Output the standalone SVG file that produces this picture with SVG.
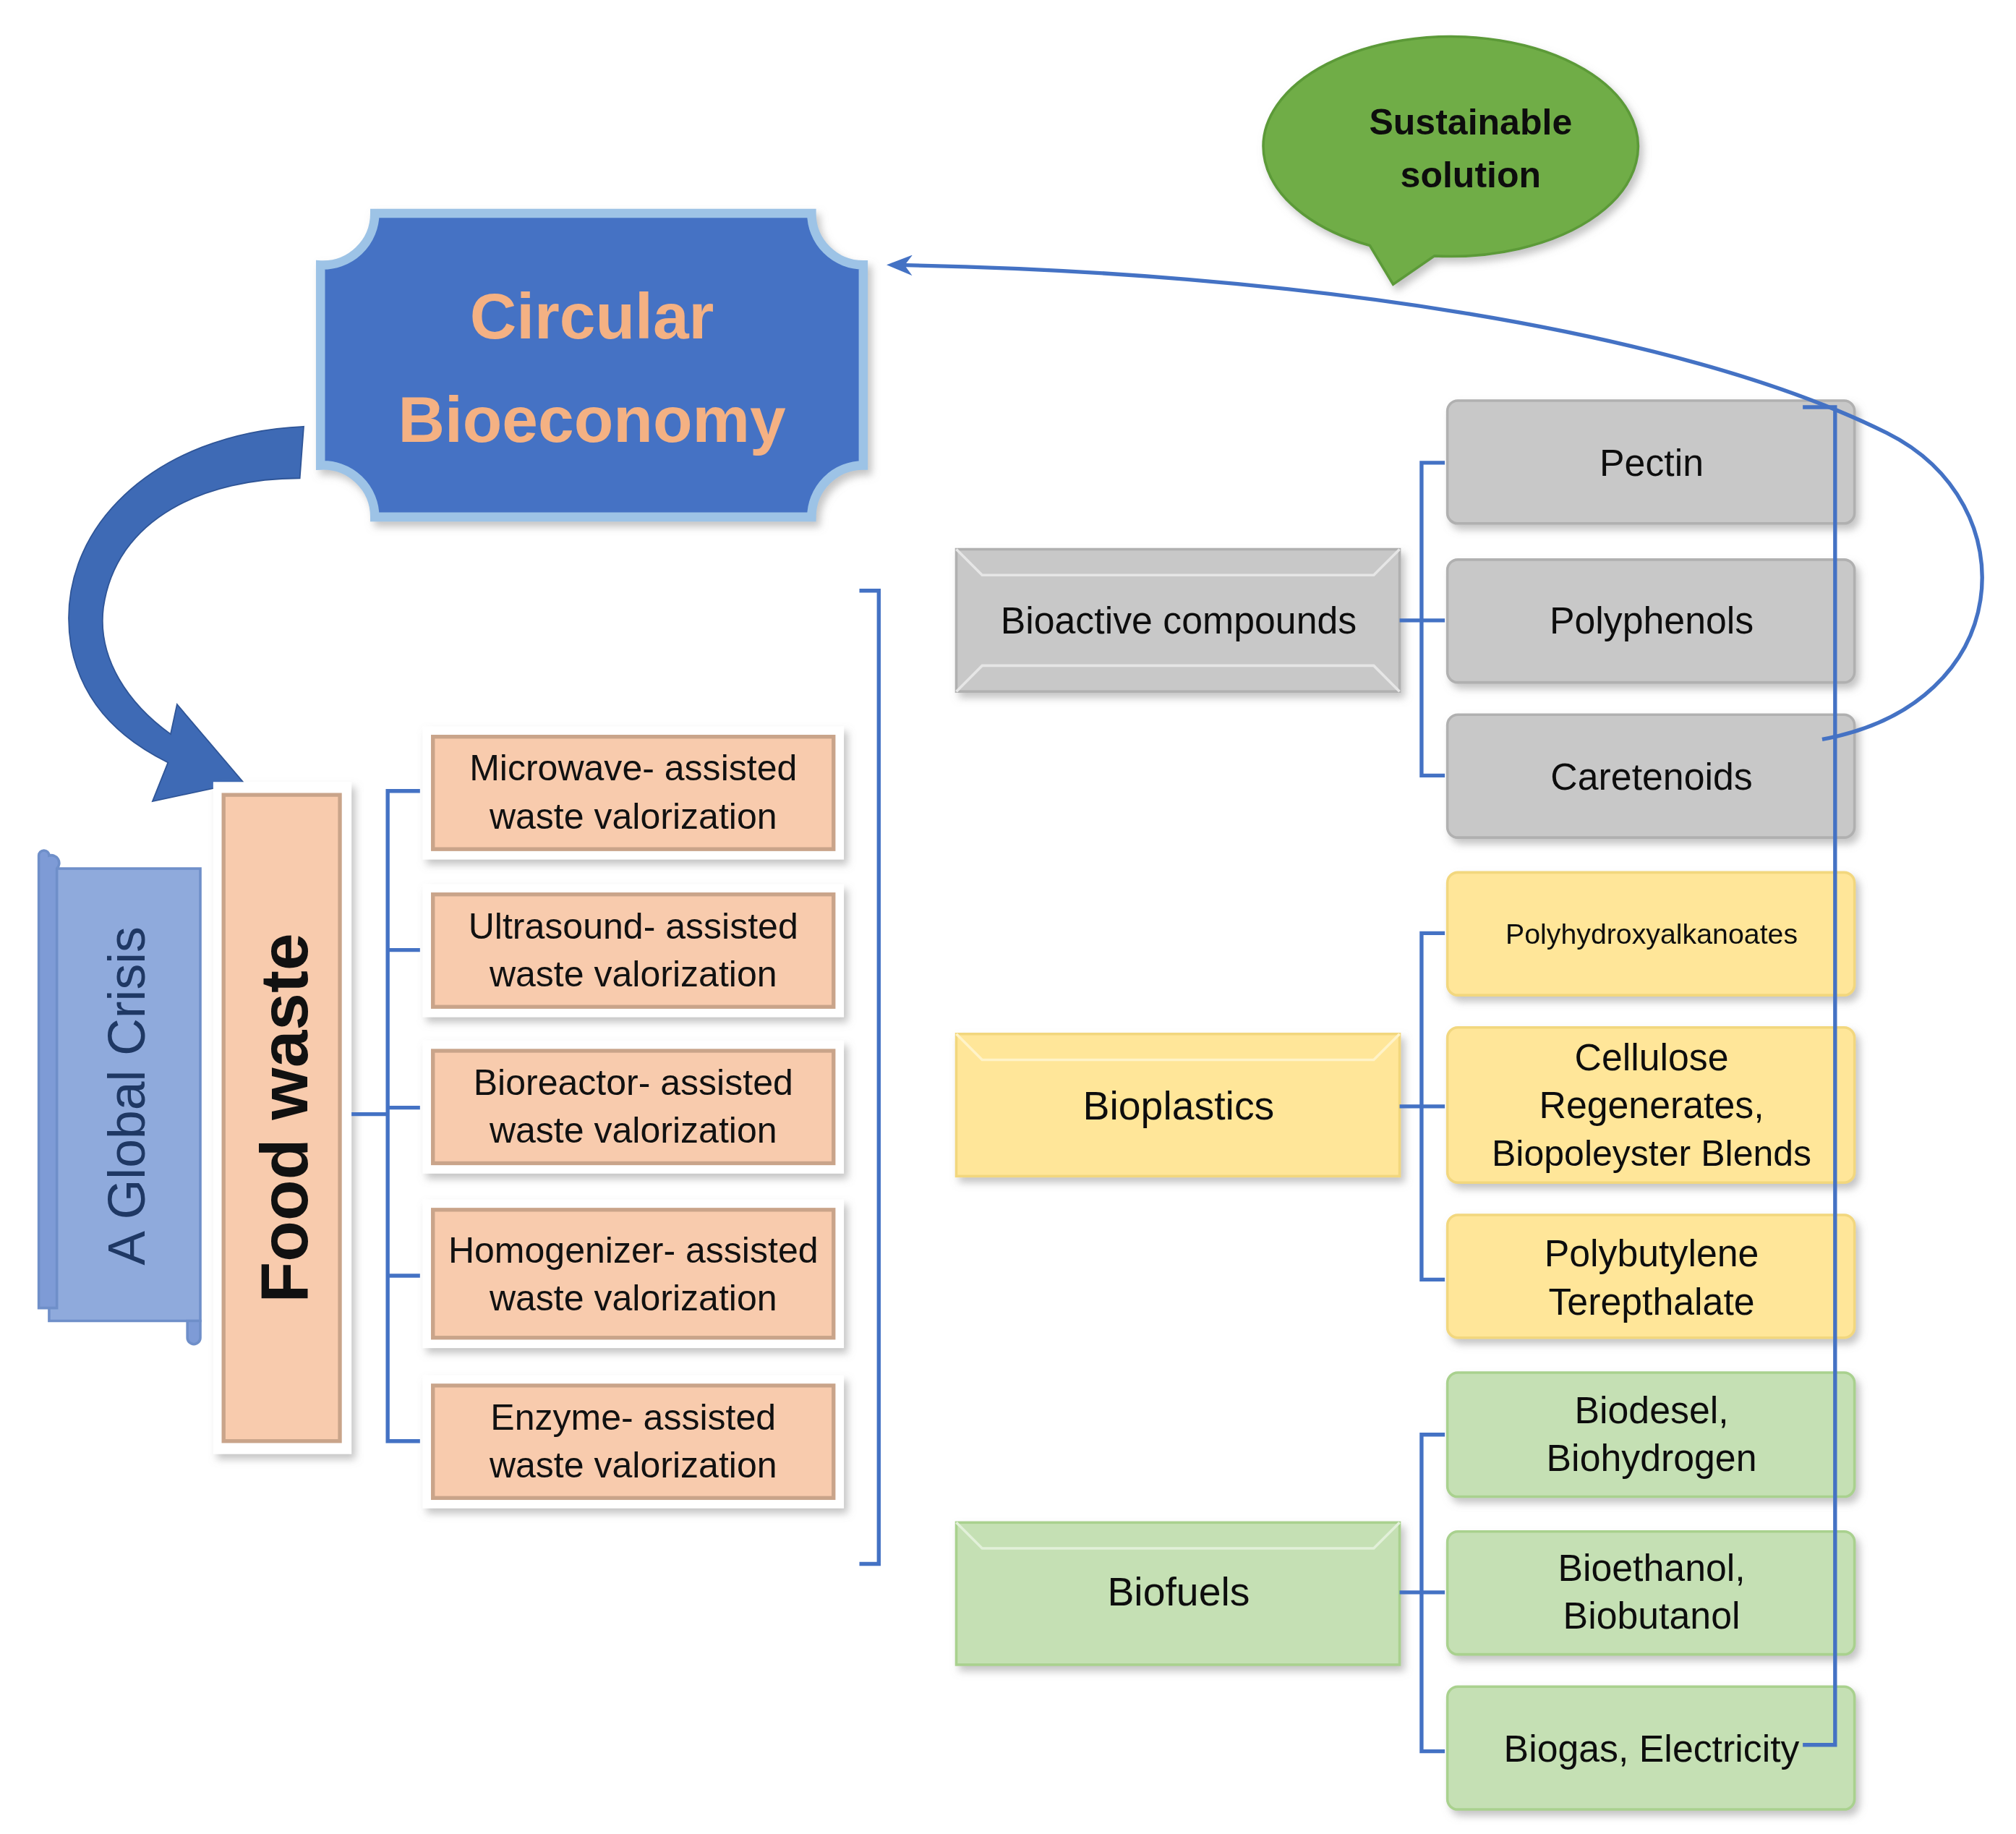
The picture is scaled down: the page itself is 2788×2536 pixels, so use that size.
<svg xmlns="http://www.w3.org/2000/svg" width="2788" height="2536" viewBox="0 0 2788 2536">
<defs>
<style>
text{font-family:"Liberation Sans",Arial,sans-serif;fill:#111;text-anchor:middle}
.o{fill:#F8CBAD;stroke:#C9A48A;stroke-width:3}
.fr{fill:#fff;filter:url(#sh)}
.ln{fill:none;stroke:#4472C4;stroke-width:3}
.t{font-size:28px}
.g{fill:#C8C8C8;stroke:#B0B0B0;stroke-width:2}
.y{fill:#FFE699;stroke:#F2D77E;stroke-width:2}
.gr{fill:#C5E0B4;stroke:#A9D18E;stroke-width:2}
</style>
<filter id="sh" x="-10%" y="-10%" width="130%" height="130%"><feDropShadow dx="3" dy="4" stdDeviation="3" flood-color="#888" flood-opacity="0.5"/></filter>
<marker id="ah" markerWidth="20" markerHeight="16" refX="16" refY="8" orient="auto" markerUnits="userSpaceOnUse"><path d="M0,0 L20,8 L0,16 L6,8 Z" fill="#4472C4"/></marker>
</defs>
<rect width="2788" height="2536" fill="#fff"/>
<g transform="scale(1.7872)">
<g id="bubble" filter="url(#sh)">
<path d="M1060,190 A145,85 0 1 1 1110,198 L1078,220 Z" fill="#70AD47" stroke="#5C9A38" stroke-width="2"/>
<text x="1138" y="104" font-size="28" font-weight="bold" fill="#1a2a10">Sustainable</text>
<text x="1138" y="145" font-size="28" font-weight="bold">solution</text>
</g>
<g id="circular">
<path d="M290,165 L628,165 A40,40 0 0 0 668,205 L668,360 A40,40 0 0 0 628,400 L290,400 A40,40 0 0 0 248,360 L248,205 A40,40 0 0 0 290,165 Z" fill="#4472C4" stroke="#9DC3E6" stroke-width="7" filter="url(#sh)"/>
<text x="458" y="262" font-size="50" font-weight="bold" style="fill:#F4B183">Circular</text>
<text x="458" y="342" font-size="50" font-weight="bold" style="fill:#F4B183">Bioeconomy</text>
</g>
<g id="bigarrow">
<path d="M235,330 C120,335 40,410 55,500 C65,550 100,575 130,590 L118,620 L188,605 L137,545 L132,568 C100,545 75,510 80,470 C90,400 160,370 232,370 Z" fill="#3E6AB5" stroke="#2F5597" stroke-width="1"/>
</g>
<g id="crisis">
<path d="M38,672 L155,672 L155,1022 L38,1022 Z" fill="#8FAADC" stroke="#6F8FC9" stroke-width="2"/>
<path d="M38,662 A6,6 0 0 1 44,672 L44,1012 L30,1012 L30,662 A4,4 0 0 1 38,662 Z" fill="#7E9BD6" stroke="#6F8FC9" stroke-width="2"/>
<path d="M145,1022 L155,1022 L155,1035 A5,5 0 0 1 145,1035 Z" fill="#7E9BD6" stroke="#6F8FC9" stroke-width="2"/>
<text transform="translate(112,848) rotate(-90)" font-size="40" style="fill:#1F3864">A Global Crisis</text>
</g>
<g id="foodwaste">
<rect class="fr" x="165" y="605" width="107" height="520"/>
<rect class="o" x="173" y="615" width="90" height="500"/>
<text transform="translate(238,865) rotate(-90)" font-size="52" font-weight="bold">Food waste</text>
</g>
<g id="m1"><rect class="fr" x="327" y="562" width="326" height="103"/><rect class="o" x="335" y="570" width="310" height="87"/><text class="t" x="490" y="604">Microwave- assisted</text><text class="t" x="490" y="641">waste valorization</text></g>
<g id="m2"><rect class="fr" x="327" y="684" width="326" height="103"/><rect class="o" x="335" y="692" width="310" height="87"/><text class="t" x="490" y="726">Ultrasound- assisted</text><text class="t" x="490" y="763">waste valorization</text></g>
<g id="m3"><rect class="fr" x="327" y="805" width="326" height="103"/><rect class="o" x="335" y="813" width="310" height="87"/><text class="t" x="490" y="847">Bioreactor- assisted</text><text class="t" x="490" y="884">waste valorization</text></g>
<g id="m4"><rect class="fr" x="327" y="928" width="326" height="115"/><rect class="o" x="335" y="936" width="310" height="99"/><text class="t" x="490" y="977">Homogenizer- assisted</text><text class="t" x="490" y="1014">waste valorization</text></g>
<g id="m5"><rect class="fr" x="327" y="1064" width="326" height="103"/><rect class="o" x="335" y="1072" width="310" height="87"/><text class="t" x="490" y="1106">Enzyme- assisted</text><text class="t" x="490" y="1143">waste valorization</text></g>
<g id="bioactive" filter="url(#sh)"><rect class="g" x="740" y="425" width="343" height="110"/><path d="M740,425 L760,445 L1063,445 L1083,425 M740,535 L760,515 L1063,515 L1083,535" fill="none" stroke="#E6E6E6" stroke-width="2"/><text x="912" y="490" font-size="29">Bioactive compounds</text></g>
<g id="bioplastics" filter="url(#sh)"><rect class="y" x="740" y="800" width="343" height="110"/><path d="M740,800 L760,820 L1063,820 L1083,800" fill="none" stroke="#FFF3C8" stroke-width="2"/><text x="912" y="866" font-size="31">Bioplastics</text></g>
<g id="biofuels" filter="url(#sh)"><rect class="gr" x="740" y="1178" width="343" height="110"/><path d="M740,1178 L760,1198 L1063,1198 L1083,1178" fill="none" stroke="#E2F0D9" stroke-width="2"/><text x="912" y="1242" font-size="31">Biofuels</text></g>
<g id="pectin" filter="url(#sh)"><rect class="g" x="1120" y="310" width="315" height="95" rx="8"/><text x="1278" y="368" font-size="29">Pectin</text></g>
<g id="polyphenols" filter="url(#sh)"><rect class="g" x="1120" y="433" width="315" height="95" rx="8"/><text x="1278" y="490" font-size="29">Polyphenols</text></g>
<g id="caretenoids" filter="url(#sh)"><rect class="g" x="1120" y="553" width="315" height="95" rx="8"/><text x="1278" y="611" font-size="29">Caretenoids</text></g>
<g id="pha" filter="url(#sh)"><rect class="y" x="1120" y="675" width="315" height="95" rx="8"/><text x="1278" y="730" font-size="22">Polyhydroxyalkanoates</text></g>
<g id="cellulose" filter="url(#sh)"><rect class="y" x="1120" y="795" width="315" height="120" rx="8"/><text x="1278" y="828" font-size="29">Cellulose</text><text x="1278" y="865" font-size="29">Regenerates,</text><text x="1278" y="902" font-size="28">Biopoleyster Blends</text></g>
<g id="pbt" filter="url(#sh)"><rect class="y" x="1120" y="940" width="315" height="95" rx="8"/><text x="1278" y="980" font-size="29">Polybutylene</text><text x="1278" y="1017" font-size="29">Terepthalate</text></g>
<g id="biodiesel" filter="url(#sh)"><rect class="gr" x="1120" y="1062" width="315" height="96" rx="8"/><text x="1278" y="1101" font-size="29">Biodesel,</text><text x="1278" y="1138" font-size="29">Biohydrogen</text></g>
<g id="bioethanol" filter="url(#sh)"><rect class="gr" x="1120" y="1185" width="315" height="95" rx="8"/><text x="1278" y="1223" font-size="29">Bioethanol,</text><text x="1278" y="1260" font-size="29">Biobutanol</text></g>
<g id="biogas" filter="url(#sh)"><rect class="gr" x="1120" y="1305" width="315" height="95" rx="8"/><text x="1278" y="1363" font-size="29">Biogas, Electricity</text></g>
<g id="connectors">
<path class="ln" d="M272,862 L300,862 M325,612 L300,612 L300,1115 L325,1115 M300,735 L325,735 M300,857 L325,857 M300,987 L325,987"/>
<path class="ln" d="M665,457 L680,457 L680,1210 L665,1210" stroke-width="4"/>
<path class="ln" d="M1083,480 L1100,480 M1118,358 L1100,358 L1100,600 L1118,600 M1100,480 L1118,480"/>
<path class="ln" d="M1083,856 L1100,856 M1118,722 L1100,722 L1100,990 L1118,990 M1100,856 L1118,856"/>
<path class="ln" d="M1083,1232 L1100,1232 M1118,1110 L1100,1110 L1100,1355 L1118,1355 M1100,1232 L1118,1232"/>
<path class="ln" d="M1395,315 L1420,315 L1420,1350 L1395,1350" stroke-width="4"/>
<path class="ln" d="M1410,572 C1560,545 1570,390 1460,335 C1300,255 1000,210 690,205" stroke-width="2" marker-end="url(#ah)"/>
</g>
</g>
</svg>
